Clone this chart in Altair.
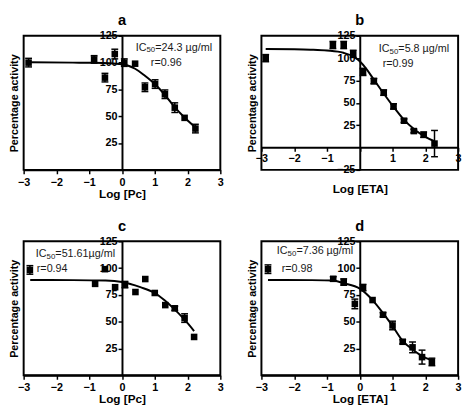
import altair as alt
import pandas as pd

FONT = "Liberation Sans"
W, H = 201, 137
X_TICKS = [-3, -2, -1, 0, 1, 2, 3]

# ---------------- panel a : Log [Pc] ----------------
a_x = [-2.85, -0.85, -0.52, -0.22, 0.07, 0.40, 0.70, 1.01, 1.31, 1.61, 1.91, 2.24]
a_y = [100, 103, 86, 108, 100, 99, 77, 80, 70.5, 58, 48.5, 38.5]
a_err = [4, 3.5, 4, 4.5, 3.5, 0, 4, 4, 4, 4.5, 0, 4]
a_cx = [-2.85, -1.5, -0.85, 0.0, 0.4, 0.7, 1.0, 1.3, 1.6, 1.9, 2.24]
a_cy = [100.3, 100.0, 99.8, 98.5, 94.3, 87.7, 80.0, 70.2, 58.7, 49.0, 39.5]

# ---------------- panel b : Log [ETA] ----------------
b_x = [-2.87, -0.82, -0.49, -0.20, 0.10, 0.43, 0.73, 1.03, 1.35, 1.65, 1.95, 2.28]
b_y = [100, 114.7, 114.7, 104.8, 84.6, 74.3, 61.4, 46, 30, 18.4, 14.3, 4.4]
b_err = [4, 4, 4, 4, 4, 3, 3, 3, 2, 2, 3, 14.7]
b_cx = [-2.87, -2.0, -1.5, -1.0, -0.5, -0.2, 0.0, 0.2, 0.43, 0.7, 1.0, 1.35, 1.68, 2.0, 2.28]
b_cy = [110.3, 110.0, 109.5, 108.5, 106.0, 102.0, 96.5, 88.0, 76.0, 62.0, 47.0, 31.0, 20.0, 12.0, 7.0]

# ---------------- panel c : Log [Pc] ----------------
c_x = [-2.81, -0.82, -0.52, -0.21, 0.09, 0.41, 0.71, 1.00, 1.32, 1.61, 1.91, 2.20]
c_y = [98.3, 85.3, 99, 82.2, 84.6, 77.7, 89.8, 76.8, 65.5, 62.5, 53.4, 35.8]
c_err = [4, 0, 0, 0, 3, 0, 0, 0, 0, 2, 4, 0]
c_cx = [-2.8, -1.5, -0.5, 0.0, 0.56, 1.0, 1.3, 1.54, 1.91, 2.2]
c_cy = [88.9, 88.8, 88.4, 87.0, 82.2, 76.8, 70.0, 63.4, 51.9, 41.3]

# ---------------- panel d : Log [ETA] ----------------
d_x = [-2.80, -0.81, -0.49, -0.15, 0.10, 0.39, 0.71, 1.00, 1.31, 1.61, 1.90, 2.20]
d_y = [99, 90, 87, 66.6, 81.8, 70.2, 56.5, 46.5, 31.3, 26.1, 17, 12.5]
d_err = [4, 2, 3, 4.5, 3, 0, 2, 4, 2, 5, 6.5, 3.5]
d_cx = [-2.8, -1.5, -0.81, -0.5, 0.0, 0.39, 0.71, 1.0, 1.31, 1.61, 1.9, 2.2]
d_cy = [89.0, 88.8, 88.4, 86.0, 80.9, 70.2, 58.0, 46.0, 32.2, 24.0, 17.9, 14.0]

# annotations: (IC50 value text, r text, IC x, IC y, r x, r y)
a_ann = ("=24.3 µg/ml", "r=0.96", 0.42, 114, 0.88, 99.5)
b_ann = ("=5.8 µg/ml", "r=0.99", 0.58, 110.5, 0.70, 93)
c_ann = ("=51.61µg/ml", "r=0.94", -2.63, 112.9, -2.60, 99.2)
d_ann = ("=7.36 µg/ml", "r=0.98", -2.53, 116.0, -2.38, 99.2)


def panel(letter, px, py, perr, cx, cy, ydom, yvals, xtitle, ann, x_at_zero=False):
    pts = pd.DataFrame({
        "x": px, "y": py, "e": perr,
        "lo": [v - e for v, e in zip(py, perr)],
        "hi": [v + e for v, e in zip(py, perr)],
    })
    crv = pd.DataFrame({"x": cx, "y": cy})
    ic_txt, r_txt, icx, icy, rx, ry = ann
    ann_ic = pd.DataFrame({"x": [icx], "y": [icy]})
    ann_r = pd.DataFrame({"x": [rx], "y": [ry], "t": [r_txt]})
    lab = pd.DataFrame({"t": [letter]})

    xs = alt.Scale(domain=[-3, 3], nice=False, zero=False)
    ys = alt.Scale(domain=ydom, nice=False, zero=False)

    common = dict(
        tickColor="black", domainColor="black", domainWidth=2, tickWidth=1.5,
        labelFont=FONT, labelFontSize=11, labelFontWeight="bold", labelColor="black",
        titleFont=FONT, titleFontWeight="bold", titleColor="black", grid=False,
        labelOverlap=False,
    )
    if x_at_zero:
        xoff = -round(H * (0 - ydom[0]) / (ydom[1] - ydom[0]))
        xaxis = alt.Axis(values=X_TICKS, format="d", title=xtitle, labelFlush=False,
                         tickSize=4, labelPadding=1, titleFontSize=12, offset=xoff,
                         titleY=37, labelExpr="datum.value == 0 ? '' : datum.label",
                         **common)
    else:
        xaxis = alt.Axis(values=X_TICKS, format="d", title=xtitle, labelFlush=False,
                         tickSize=4, labelPadding=3, titleFontSize=12, titlePadding=1,
                         **common)
    yaxis = alt.Axis(values=yvals, format="d", title="Percentage activity", offset=-W / 2,
                     tickSize=4, labelPadding=1, titleFontSize=11,
                     titleX=-W / 2 - 4, titleY=H / 2, titleAlign="center",
                     titleBaseline="bottom", labelFlush=False, **common)

    X = alt.X("x:Q", scale=xs, axis=xaxis)

    line = alt.Chart(crv).mark_line(color="black", strokeWidth=2, interpolate="monotone").encode(
        x=X, y=alt.Y("y:Q", scale=ys, axis=yaxis))
    rules = alt.Chart(pts).transform_filter("datum.e > 0").mark_rule(
        color="black", strokeWidth=1.5).encode(
        x=X, y=alt.Y("lo:Q", scale=ys, axis=yaxis), y2="hi:Q")
    cap_lo = alt.Chart(pts).transform_filter("datum.e > 0").mark_tick(
        orient="horizontal", size=7, thickness=1.5, color="black", opacity=1).encode(
        x=X, y=alt.Y("lo:Q", scale=ys, axis=yaxis))
    cap_hi = alt.Chart(pts).transform_filter("datum.e > 0").mark_tick(
        orient="horizontal", size=7, thickness=1.5, color="black", opacity=1).encode(
        x=X, y=alt.Y("hi:Q", scale=ys, axis=yaxis))
    sq = alt.Chart(pts).mark_square(size=45, color="black", opacity=1).encode(
        x=X, y=alt.Y("y:Q", scale=ys, axis=yaxis))

    tkw = dict(font=FONT, color="#1a1a1a", baseline="middle", align="left")
    t_ic = alt.Chart(ann_ic).mark_text(text="IC", fontSize=11, **tkw).encode(
        x=X, y=alt.Y("y:Q", scale=ys, axis=yaxis))
    t_50 = alt.Chart(ann_ic).mark_text(text="50", fontSize=8, dx=11, dy=3, **tkw).encode(
        x=X, y=alt.Y("y:Q", scale=ys, axis=yaxis))
    t_eq = alt.Chart(ann_ic).mark_text(text=ic_txt, fontSize=11, dx=20, **tkw).encode(
        x=X, y=alt.Y("y:Q", scale=ys, axis=yaxis))
    t_r = alt.Chart(ann_r).mark_text(fontSize=11, **tkw).encode(
        x=X, y=alt.Y("y:Q", scale=ys, axis=yaxis), text="t:N")
    # panel letter, placed above the plot box
    t_lab = alt.Chart(lab).mark_text(font=FONT, fontSize=15, fontWeight="bold", color="black",
                                     align="center", baseline="top").encode(
        x=alt.value(W / 2), y=alt.value(-23), text="t:N")

    return alt.layer(line, rules, cap_lo, cap_hi, sq, t_ic, t_50, t_eq, t_r, t_lab).properties(
        width=W, height=H)


Y_STD = [25, 50, 75, 100, 125]
pa = panel("a", a_x, a_y, a_err, a_cx, a_cy, [0, 125], Y_STD, "Log [Pc]", a_ann)
pb = panel("b", b_x, b_y, b_err, b_cx, b_cy, [-25, 125], [-25] + Y_STD, "Log [ETA]", b_ann,
           x_at_zero=True)
pc = panel("c", c_x, c_y, c_err, c_cx, c_cy, [0, 125], Y_STD, "Log [Pc]", c_ann)
pd_ = panel("d", d_x, d_y, d_err, d_cx, d_cy, [0, 125], Y_STD, "Log [ETA]", d_ann)

chart = alt.concat(pa, pb, pc, pd_, columns=2, spacing={"row": 73, "column": 42},
                   bounds="flush").properties(padding=0).configure(font=FONT).configure_view(
    stroke="black", strokeWidth=2)

chart.save("out.html", embed_options={"renderer": "svg", "actions": False})
